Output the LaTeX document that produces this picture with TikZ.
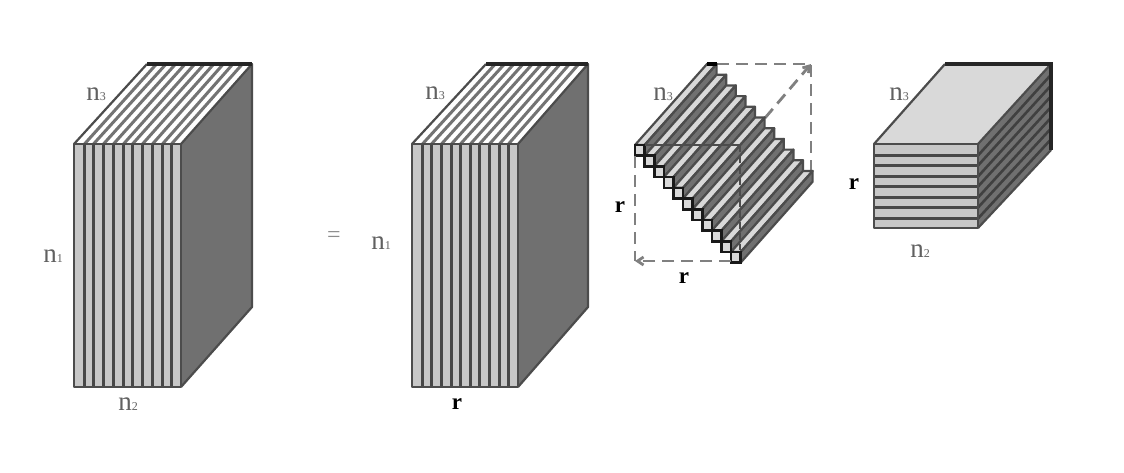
\documentclass[tikz,border=0pt]{standalone}
\usepackage{fontspec}
\setmainfont{Liberation Serif}
\usetikzlibrary{arrows.meta,calc}
\definecolor{edgeg}{gray}{0.30}
\definecolor{faceg}{gray}{0.44}
\definecolor{stripeg}{gray}{0.78}
\definecolor{topg}{gray}{0.85}
\definecolor{labg}{gray}{0.38}
\newcommand{\nsub}[1]{n{\fontsize{12}{12}\selectfont #1}}
\tikzset{
  lab/.style={text=labg,font=\fontsize{27}{27}\selectfont,inner sep=0pt},
  rlab/.style={text=black,font=\fontsize{23}{23}\selectfont\bfseries,inner sep=0pt},
  dimline/.style={draw=black!50,line width=2.8pt,dash pattern=on 12pt off 7pt},
  dimtip/.style={-{Straight Barb[length=6pt,width=8pt]}},
  rim/.style={draw=edgeg,line width=2.2pt,line join=round},
  slitdark/.style={draw=black!72,line width=3pt},
  slitsoft/.style={draw=black!55,line width=3pt},
  backedge/.style={draw=black!85,line width=3.6pt},
  barline/.style={draw=black!70,line width=2.2pt,line join=round},
}
% #1 left, #2 right of the front; #3 left, #4 right of the back
\newcommand{\tallbox}[4]{%
  \fill[white] (#1,144) -- (#3,64) -- (#4,64) -- (#2,144) -- cycle;
  \fill[stripeg] (#1,144) rectangle (#2,387);
  \fill[faceg] (#2,144) -- (#4,64) -- (#4,307) -- (#2,387) -- cycle;
  \foreach \i in {1,...,10} {
    \pgfmathsetmacro{\fx}{round(#1+(#2-#1)*\i/11)+0.5}
    \pgfmathsetmacro{\bx}{#3+(#4-#3)*\i/11}
    \draw[slitdark] (\fx,144) -- (\fx,387);
    \draw[slitsoft] (\fx,144) -- (\bx,64);
  }
  \draw[rim] (#1,144) rectangle (#2,387);
  \draw[rim] (#1,144) -- (#3,64);
  \draw[rim] (#2,144) -- (#4,64) -- (#4,307) -- (#2,387);
  \draw[backedge] (#3,64) -- (#4,64);
}
\begin{document}
\begin{tikzpicture}[x=1pt,y=-1pt]
\useasboundingbox (0,0) rectangle (1124,472);
\fill[white] (0,0) rectangle (1124,472);

% left tensor and first factor
\tallbox{74}{181}{147}{252}
\tallbox{412}{518}{486}{588}

% dashed frame of the core, behind the slices
\coordinate (coreTL) at (717,64);
\coordinate (coreTR) at (811,64);
\coordinate (coreBR) at (811,170);
\coordinate (coreMid) at (765,118);
\draw[dimline] (coreTL) -- (coreTR) -- (coreBR);
\draw[dimline,dimtip] (coreMid) -- (coreTR);

% staircase of slices
\foreach \i in {0,...,10} {
  \pgfmathsetmacro{\xa}{635+9.6*\i}
  \pgfmathsetmacro{\ya}{145+10.7*\i}
  \pgfmathsetmacro{\xb}{\xa+9.6}
  \pgfmathsetmacro{\yb}{\ya+10.7}
  \fill[topg] (\xa,\ya) -- ++(72,-81) -- ++(9.6,0) -- (\xb,\ya) -- cycle;
  \fill[faceg] (\xb,\ya) -- ++(72,-81) -- ++(0,10.7) -- (\xb,\yb) -- cycle;
  \draw[barline] (\xa,\ya) -- ++(72,-81) -- ++(9.6,0) -- (\xb,\ya) -- cycle;
  \draw[barline] (\xb,\ya) -- ++(72,-81) -- ++(0,10.7) -- (\xb,\yb);
}
\foreach \i in {0,...,10} {
  \pgfmathsetmacro{\xa}{635+9.6*\i}
  \pgfmathsetmacro{\ya}{145+10.7*\i}
  \draw[draw=black!90,line width=2.6pt,fill=topg] (\xa,\ya) rectangle ++(9.6,10.7);
}
\draw[draw=black,line width=3.2pt] (707,64) -- (717,64);
% dashed frame of the core, in front
\coordinate (frontTL) at (645,145);
\coordinate (frontTR) at (740,145);
\coordinate (frontBR) at (740,250);
\coordinate (frontL) at (635,156);
\coordinate (frontBL) at (635,261);
\coordinate (frontB) at (731,261);
\draw[draw=black!70,line width=1.6pt] (frontTL) -- (frontTR);
\draw[draw=black!70,line width=1.8pt,dash pattern=on 7pt off 4pt] (frontTR) -- (frontBR);
\draw[dimline] (frontL) -- (frontBL);
\draw[dimline,dimtip] (frontB) -- (frontBL);

% right factor
\fill[topg] (874,144) -- (945,64) -- (1051,64) -- (978,144) -- cycle;
\fill[stripeg] (874,144) rectangle (978,228);
\fill[faceg] (978,144) -- (1051,64) -- (1051,150) -- (978,228) -- cycle;
\foreach \i in {1,...,7} {
  \pgfmathsetmacro{\ya}{round(144+84*\i/8)+0.5}
  \pgfmathsetmacro{\yb}{64+86*\i/8}
  \draw[slitdark] (874,\ya) -- (978,\ya);
  \draw[draw=black!75,line width=2.6pt] (978,\ya) -- (1051,\yb);
}
\draw[rim] (874,144) rectangle (978,228);
\draw[rim] (874,144) -- (945,64);
\draw[rim] (978,144) -- (1051,64);
\draw[rim] (978,228) -- (1051,150);
\draw[draw=black!85,line width=3.6pt] (945,64) -- (1051,64) -- (1051,150);

% labels
\node[lab] (a1) at (53,256) {\nsub{1}};
\node[lab] (a2) at (128,404) {\nsub{2}};
\node[lab] (a3) at (96,94) {\nsub{3}};
\node[text=black!45,font=\fontsize{24}{24}\selectfont,inner sep=0pt] (eq) at (334,237) {=};
\node[lab] (b1) at (381,243) {\nsub{1}};
\node[lab] (b3) at (435,93) {\nsub{3}};
\node[rlab] (br) at (457,404) {r};
\node[lab] (c3) at (663,94) {\nsub{3}};
\node[rlab] (cr1) at (620,207) {r};
\node[rlab] (cr2) at (684,278) {r};
\node[lab] (d3) at (899,94) {\nsub{3}};
\node[rlab] (dr) at (854,184) {r};
\node[lab] (d2) at (920,251) {\nsub{2}};
\end{tikzpicture}
\end{document}
